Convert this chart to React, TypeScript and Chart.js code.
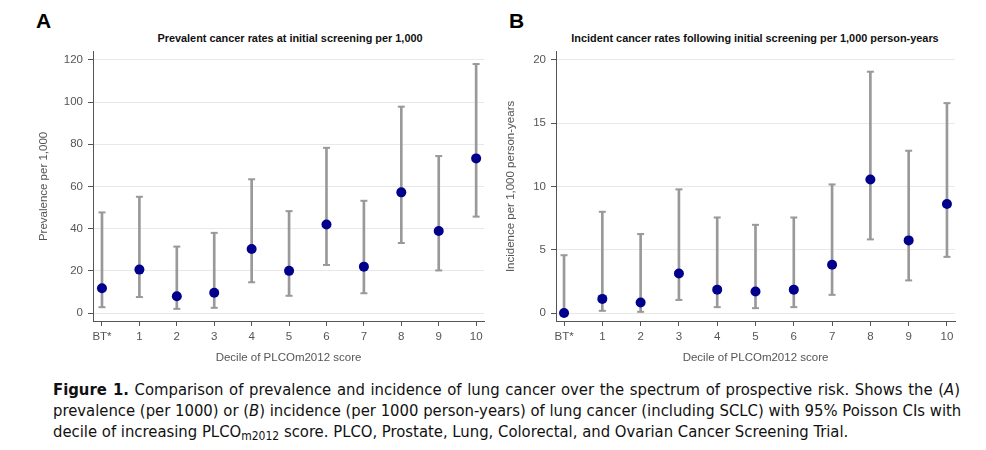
import React, { useEffect, useRef } from "react";
import { Chart, registerables } from "chart.js";

Chart.register(...registerables);

const categories = ["BT*", "1", "2", "3", "4", "5", "6", "7", "8", "9", "10"];

const prevalence = [11.8, 20.6, 8.0, 9.6, 30.4, 20.0, 42.0, 22.0, 57.2, 38.9, 73.3];
const prevalenceLower = [2.8, 7.6, 2.0, 2.5, 14.6, 8.2, 22.8, 9.4, 33.2, 20.2, 45.7];
const prevalenceUpper = [47.7, 55.1, 31.5, 38.0, 63.4, 48.3, 78.3, 53.2, 97.8, 74.4, 118.0];
const prevalenceTicks = [0, 20, 40, 60, 80, 100, 120];

const incidence = [0, 1.12, 0.84, 3.13, 1.85, 1.7, 1.85, 3.81, 10.55, 5.74, 8.62];
const incidenceLower = [0, 0.18, 0.1, 1.04, 0.47, 0.39, 0.47, 1.44, 5.82, 2.58, 4.44];
const incidenceUpper = [4.57, 8.0, 6.24, 9.77, 7.55, 6.97, 7.55, 10.16, 19.06, 12.82, 16.58];
const incidenceTicks = [0, 5, 10, 15, 20];

const FONT = "'Liberation Sans', Arial, sans-serif";
const TICK_COLOR = "#555";
const BAR_COLOR = "#999";
const POINT_COLOR = "#00008c";

type PanelProps = {
  values: number[];
  lower: number[];
  upper: number[];
  yTicks: number[];
  yMin: number;
  yMax: number;
  xMin: number;
  xMax: number;
  yTitle: string;
  width: number;
  height: number;
  yAxisWidth: number;
  xAxisHeight: number;
  padRight: number;
  padTop: number;
  yTitlePad: number;
};

function Panel(p: PanelProps) {
  const ref = useRef<HTMLCanvasElement | null>(null);
  useEffect(() => {
    if (!ref.current) return;
    const idx = categories.map((_, i) => i);
    const chart = new Chart(ref.current, {
      type: "bar",
      data: {
        datasets: [
          {
            type: "line",
            data: idx.map((i) => ({ x: i, y: p.values[i] })),
            showLine: false,
            pointRadius: 5,
            pointBackgroundColor: POINT_COLOR,
            pointBorderColor: POINT_COLOR,
            pointBorderWidth: 0,
            order: 0,
          } as any,
          {
            type: "line",
            data: idx.map((i) => ({ x: i, y: p.upper[i] })),
            showLine: false,
            pointStyle: "line",
            pointRadius: 3.5,
            pointBorderColor: BAR_COLOR,
            pointBorderWidth: 2,
            order: 1,
          } as any,
          {
            type: "line",
            data: idx.map((i) => ({ x: i, y: p.lower[i] })),
            showLine: false,
            pointStyle: "line",
            pointRadius: 3.5,
            pointBorderColor: BAR_COLOR,
            pointBorderWidth: 2,
            order: 1,
          } as any,
          {
            type: "bar",
            data: idx.map((i) => ({ x: i, y: [p.lower[i], p.upper[i]] })),
            backgroundColor: BAR_COLOR,
            borderWidth: 0,
            barThickness: 2,
            order: 2,
          } as any,
        ],
      },
      options: {
        responsive: false,
        animation: false,
        events: [],
        layout: { padding: { left: 0, right: p.padRight, top: p.padTop, bottom: 0 } },
        plugins: {
          legend: { display: false },
          tooltip: { enabled: false },
          title: { display: false },
        },
        scales: {
          x: {
            type: "linear",
            min: p.xMin,
            max: p.xMax,
            offset: false,
            afterBuildTicks: (scale: any) => {
              scale.ticks = idx.map((i) => ({ value: i }));
            },
            afterFit: (scale: any) => {
              scale.height = p.xAxisHeight;
            },
            ticks: {
              autoSkip: false,
              maxRotation: 0,
              padding: 4,
              color: TICK_COLOR,
              font: { family: FONT, size: 11.5 },
              callback: (v: any) => categories[Math.round(Number(v))] ?? "",
            },
            grid: {
              offset: false,
              drawOnChartArea: false,
              drawTicks: true,
              tickLength: 5,
              tickColor: "#555",
            },
            border: { display: true, color: "#555", width: 1 },
            title: {
              display: true,
              text: "Decile of PLCOm2012 score",
              color: TICK_COLOR,
              font: { family: FONT, size: 11.5 },
              padding: { top: 0, bottom: 5 },
            },
          },
          y: {
            type: "linear",
            min: p.yMin,
            max: p.yMax,
            afterBuildTicks: (scale: any) => {
              scale.ticks = p.yTicks.map((v) => ({ value: v }));
            },
            afterFit: (scale: any) => {
              scale.width = p.yAxisWidth;
            },
            ticks: {
              padding: 5,
              color: TICK_COLOR,
              font: { family: FONT, size: 11.5 },
            },
            grid: {
              color: "#e8e8e8",
              drawTicks: true,
              tickLength: 5,
              tickColor: "#555",
            },
            border: { display: true, color: "#555", width: 1 },
            title: {
              display: true,
              text: p.yTitle,
              color: TICK_COLOR,
              font: { family: FONT, size: 11.5 },
              padding: { top: p.yTitlePad, bottom: 0 },
            },
          },
        },
      } as any,
    });
    return () => chart.destroy();
  }, []);
  return <canvas ref={ref} width={p.width} height={p.height} style={{ width: p.width, height: p.height, display: "block" }} />;
}

const letterStyle: React.CSSProperties = {
  position: "absolute",
  fontFamily: FONT,
  fontWeight: "bold",
  fontSize: 21,
  lineHeight: "21px",
  color: "#000",
};

const titleStyle: React.CSSProperties = {
  position: "absolute",
  fontFamily: FONT,
  fontWeight: "bold",
  fontSize: 10.9,
  lineHeight: "12px",
  color: "#111",
  textAlign: "center",
  whiteSpace: "nowrap",
};

const capFont = "'Liberation Sans Narrow', 'DejaVu Sans Condensed', 'Liberation Sans', sans-serif";

const lineStyle: React.CSSProperties = {
  textAlign: "justify",
  textAlignLast: "justify" as any,
  whiteSpace: "nowrap",
  height: 21,
};

export default function App() {
  return (
    <div style={{ position: "fixed", left: 0, top: 0, width: 986, height: 450, background: "#fff", overflow: "hidden" }}>
      <div style={{ ...letterStyle, left: 36, top: 10 }}>A</div>
      <div style={{ ...letterStyle, left: 509, top: 10 }}>B</div>
      <div style={{ ...titleStyle, left: 90, width: 400, top: 32 }}>Prevalent cancer rates at initial screening per 1,000</div>
      <div style={{ ...titleStyle, left: 555, width: 400, top: 32 }}>Incident cancer rates following initial screening per 1,000 person-years</div>
      <div style={{ position: "absolute", left: 0, top: 40 }}>
        <Panel
          values={prevalence}
          lower={prevalenceLower}
          upper={prevalenceUpper}
          yTicks={prevalenceTicks}
          yMin={-3.75}
          yMax={123.75}
          xMin={-0.24}
          xMax={10.21}
          yTitle="Prevalence per 1,000"
          width={490}
          height={330}
          yAxisWidth={93}
          xAxisHeight={49}
          padRight={4}
          padTop={9}
          yTitlePad={37}
        />
      </div>
      <div style={{ position: "absolute", left: 490, top: 40 }}>
        <Panel
          values={incidence}
          lower={incidenceLower}
          upper={incidenceUpper}
          yTicks={incidenceTicks}
          yMin={-0.625}
          yMax={20.625}
          xMin={-0.21}
          xMax={10.21}
          yTitle="Incidence per 1,000 person-years"
          width={496}
          height={330}
          yAxisWidth={66}
          xAxisHeight={49}
          padRight={31}
          padTop={9}
          yTitlePad={14}
        />
      </div>
      <div style={{ position: "absolute", left: 53, top: 379, width: 907, fontFamily: capFont, fontSize: 16.5, lineHeight: "21px", color: "#111" }}>
        <div style={lineStyle}>
          <b>Figure 1.</b> Comparison of prevalence and incidence of lung cancer over the spectrum of prospective risk. Shows the (<i>A</i>)
        </div>
        <div style={lineStyle}>
          prevalence (per 1000) or (<i>B</i>) incidence (per 1000 person-years) of lung cancer (including SCLC) with 95% Poisson CIs with
        </div>
        <div style={{ height: 21, whiteSpace: "nowrap" }}>
          decile of increasing PLCO<sub style={{ fontSize: 12, verticalAlign: "-3px", lineHeight: 0 }}>m2012</sub> score. PLCO, Prostate, Lung, Colorectal, and Ovarian Cancer Screening Trial.
        </div>
      </div>
    </div>
  );
}
